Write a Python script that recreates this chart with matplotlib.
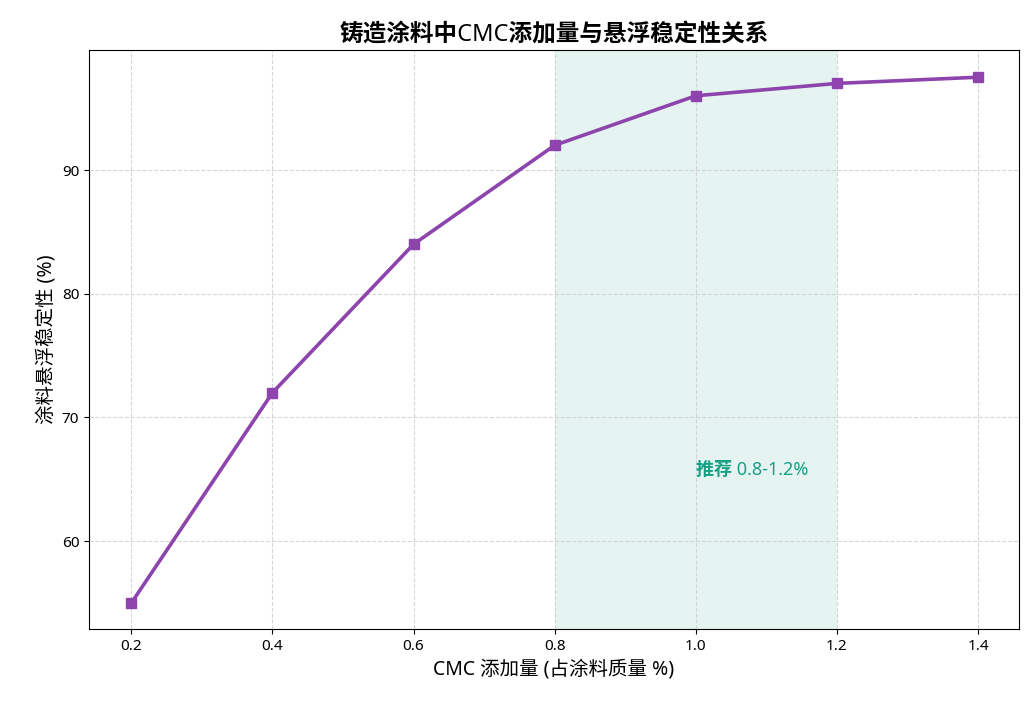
import matplotlib
matplotlib.use("Agg")
import matplotlib.pyplot as plt

plt.rcParams['font.family'] = ['Noto Sans', 'Noto Sans CJK SC', 'DejaVu Sans']

cmc = [0.2, 0.4, 0.6, 0.8, 1.0, 1.2, 1.4]
stability = [55, 72, 84, 92, 96, 97, 97.5]
rec_low, rec_high = 0.8, 1.2

fig = plt.figure(figsize=(10.34, 7.16), dpi=100)
ax = fig.add_axes([89/1034, 1-629/716, 930/1034, 579/716])
ax.axvspan(rec_low, rec_high, color='#16A085', alpha=0.11, lw=0)
ax.plot(cmc, stability, color='#8E44AD', lw=2.6, marker='s', markersize=7)
ax.text(1.0, 65, '推荐 0.8-1.2%', color='#16A085', fontsize=13, fontweight='bold', va='bottom')
ax.set_xlim(0.14, 1.458)
ax.set_ylim(52.9, 99.7)
ax.set_xticks(cmc)
ax.set_yticks([60, 70, 80, 90])
ax.grid(True, ls='--', color='#cccccc', alpha=0.8)
ax.tick_params(labelsize=11)
ax.set_xlabel('CMC 添加量 (占涂料质量 %)', fontsize=14)
ax.set_ylabel('涂料悬浮稳定性 (%)', fontsize=14)
ax.set_title('铸造涂料中CMC添加量与悬浮稳定性关系', fontsize=17, fontweight='bold')
fig.savefig('out.png', dpi=100)
